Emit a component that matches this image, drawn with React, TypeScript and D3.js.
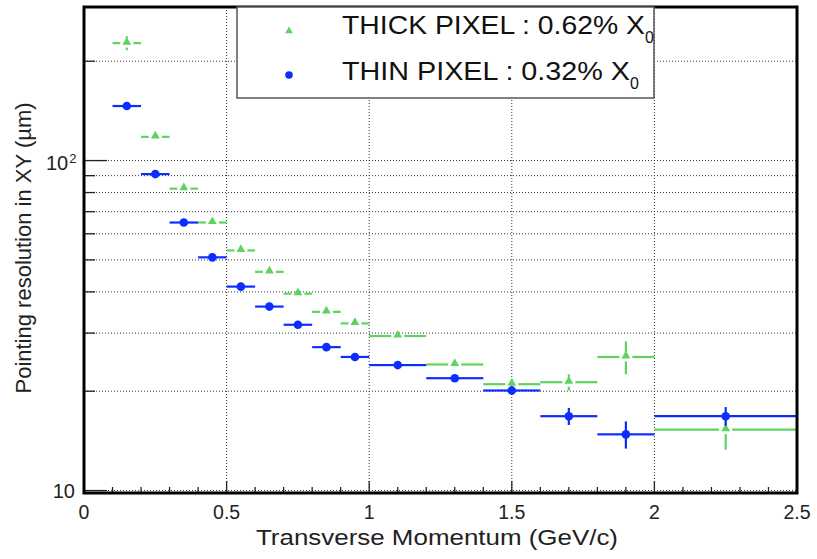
import { useEffect, useRef } from "react";
import * as d3 from "d3";

// bin edges in GeV/c
const binEdges = [0.1, 0.2, 0.3, 0.4, 0.5, 0.6, 0.7, 0.8, 0.9, 1.0, 1.2, 1.4, 1.6, 1.8, 2.0, 2.5];

// pointing resolution (um)
const thickValues = [227, 118, 82.2, 64.9, 53.4, 46.0, 39.5, 34.8, 32.1, 29.4, 24.1, 21.0, 21.3, 25.4, 15.3];
const thickErrors = [11, 3, 2, 1.5, 1, 0.8, 0.7, 0.6, 0.5, 0.5, 0.5, 0.6, 1.2, 2.9, 2.0];
const thinValues = [146.3, 91.0, 64.9, 50.9, 41.5, 36.1, 31.8, 27.2, 25.4, 24.0, 21.9, 20.1, 16.8, 14.8, 16.8];
const thinErrors = [2, 1, 0.8, 0.6, 0.5, 0.4, 0.4, 0.3, 0.3, 0.3, 0.3, 0.6, 1.0, 1.4, 1.1];

const xMajorTicks = [0, 0.5, 1, 1.5, 2, 2.5];
const yGridValues = [10, 20, 30, 40, 50, 60, 70, 80, 90, 100, 200];

const legendLabels = ["THICK PIXEL : 0.62% X", "THIN PIXEL : 0.32% X"];

const GREEN = "#5fd35f";
const BLUE = "#0b2dff";
const FONT = "'Liberation Sans', Arial, Helvetica, sans-serif";

export default function App() {
  const svgRef = useRef<SVGSVGElement>(null);

  useEffect(() => {
    if (!svgRef.current) return;
    const svg = d3.select(svgRef.current);
    svg.selectAll("*").remove();

    const left = 84, right = 797, top = 7, bottom = 493;

    const x = d3.scaleLinear().domain([0, 2.5]).range([left, right]);
    const y = d3.scaleLog().domain([9.83, 292]).range([bottom, top]);

    svg.append("rect").attr("width", 817).attr("height", 559).attr("fill", "#fff");

    // grid
    const grid = svg.append("g");
    [0.5, 1, 1.5, 2].forEach((v) => {
      grid.append("line")
        .attr("x1", x(v)).attr("x2", x(v))
        .attr("y1", top).attr("y2", bottom)
        .attr("stroke", "#333").attr("stroke-width", 1)
        .attr("stroke-dasharray", "1,2");
    });
    yGridValues.forEach((v) => {
      grid.append("line")
        .attr("x1", left).attr("x2", right)
        .attr("y1", y(v)).attr("y2", y(v))
        .attr("stroke", "#333").attr("stroke-width", 1)
        .attr("stroke-dasharray", "1,2");
    });

    // ticks
    const ticks = svg.append("g").attr("stroke", "#222").attr("stroke-width", 1.3);
    d3.range(0, 26).forEach((i) => {
      const v = i / 10;
      const major = i % 5 === 0;
      ticks.append("line")
        .attr("x1", x(v)).attr("x2", x(v))
        .attr("y1", bottom).attr("y2", bottom - (major ? 12 : 6));
    });
    yGridValues.forEach((v) => {
      const major = v === 10 || v === 100;
      ticks.append("line")
        .attr("x1", left).attr("x2", left + (major ? 23 : 11))
        .attr("y1", y(v)).attr("y2", y(v));
    });

    // tick labels
    xMajorTicks.forEach((v) => {
      svg.append("text")
        .attr("x", x(v)).attr("y", 519)
        .attr("text-anchor", "middle")
        .attr("font-family", FONT).attr("font-size", 19.5)
        .attr("fill", "#222")
        .text(String(v));
    });
    svg.append("text")
      .attr("x", 75).attr("y", y(10) + 7)
      .attr("text-anchor", "end")
      .attr("font-family", FONT).attr("font-size", 20)
      .attr("fill", "#222")
      .text("10");
    const t100 = svg.append("text")
      .attr("x", 46).attr("y", y(100) + 9)
      .attr("font-family", FONT).attr("font-size", 20)
      .attr("fill", "#222");
    t100.append("tspan").text("10");
    t100.append("tspan").attr("font-size", 13).attr("dy", -7).attr("dx", 1).text("2");

    // axis titles
    svg.append("text")
      .attr("x", 256).attr("y", 545)
      .attr("font-family", FONT).attr("font-size", 22.5)
      .attr("textLength", 362).attr("lengthAdjust", "spacingAndGlyphs")
      .attr("fill", "#222")
      .text("Transverse Momentum  (GeV/c)");
    svg.append("text")
      .attr("transform", "translate(31,248) rotate(-90)")
      .attr("text-anchor", "middle")
      .attr("font-family", FONT).attr("font-size", 22)
      .attr("fill", "#222")
      .text("Pointing resolution in XY (\u00b5m)");

    const tri = d3.symbol().type(d3.symbolTriangle).size(34);

    // data series
    const drawSeries = (
      values: number[],
      errors: number[],
      color: string,
      gap: number,
      kind: "tri" | "dot"
    ) => {
      const g = svg.append("g").attr("stroke-width", 2.2);
      values.forEach((v, i) => {
        const lo = binEdges[i];
        const hi = binEdges[i + 1];
        const cx = x((lo + hi) / 2);
        const cy = y(v);
        g.append("line")
          .attr("x1", x(lo)).attr("x2", cx - gap)
          .attr("y1", cy).attr("y2", cy)
          .attr("stroke", color);
        g.append("line")
          .attr("x1", cx + gap).attr("x2", x(hi))
          .attr("y1", cy).attr("y2", cy)
          .attr("stroke", color);
        const vGap = gap - 2;
        const eUp = y(v + errors[i]);
        const eDn = y(v - errors[i]);
        if (cy - eUp > vGap) {
          g.append("line")
            .attr("x1", cx).attr("x2", cx)
            .attr("y1", eUp).attr("y2", cy - vGap)
            .attr("stroke", color);
        }
        if (eDn - cy > vGap) {
          g.append("line")
            .attr("x1", cx).attr("x2", cx)
            .attr("y1", cy + vGap).attr("y2", eDn)
            .attr("stroke", color);
        }
        if (kind === "tri") {
          g.append("path")
            .attr("d", tri()!)
            .attr("transform", `translate(${cx},${cy - 1})`)
            .attr("fill", color).attr("stroke", "none");
        } else {
          g.append("circle")
            .attr("cx", cx).attr("cy", cy).attr("r", 4.3)
            .attr("fill", color).attr("stroke", "none");
        }
      });
    };

    drawSeries(thickValues, thickErrors, GREEN, 6.5, "tri");
    drawSeries(thinValues, thinErrors, BLUE, 2, "dot");

    // frame
    svg.append("rect")
      .attr("x", left).attr("y", top)
      .attr("width", right - left).attr("height", bottom - top)
      .attr("fill", "none").attr("stroke", "#000").attr("stroke-width", 3);

    // legend
    const lg = svg.append("g");
    lg.append("rect")
      .attr("x", 237).attr("y", 7)
      .attr("width", 417).attr("height", 91)
      .attr("fill", "#fff").attr("stroke", "#555").attr("stroke-width", 1.5);
    lg.append("path")
      .attr("d", d3.symbol().type(d3.symbolTriangle).size(26)()!)
      .attr("transform", "translate(289,31)")
      .attr("fill", GREEN);
    lg.append("circle").attr("cx", 289).attr("cy", 75).attr("r", 3.8).attr("fill", BLUE);

    const baselines = [34, 80];
    const widths = [303, 288];
    legendLabels.forEach((label, i) => {
      const t = lg.append("text")
        .attr("x", 342).attr("y", baselines[i])
        .attr("font-family", FONT).attr("font-size", 25)
        .attr("fill", "#111");
      t.append("tspan")
        .attr("textLength", widths[i]).attr("lengthAdjust", "spacingAndGlyphs")
        .text(label);
      t.append("tspan").attr("font-size", 16).attr("dy", 9).text("0");
    });
  }, []);

  return (
    <div style={{ position: "absolute", left: 0, top: 0 }}>
      <svg ref={svgRef} width={817} height={559} style={{ display: "block" }} />
    </div>
  );
}
